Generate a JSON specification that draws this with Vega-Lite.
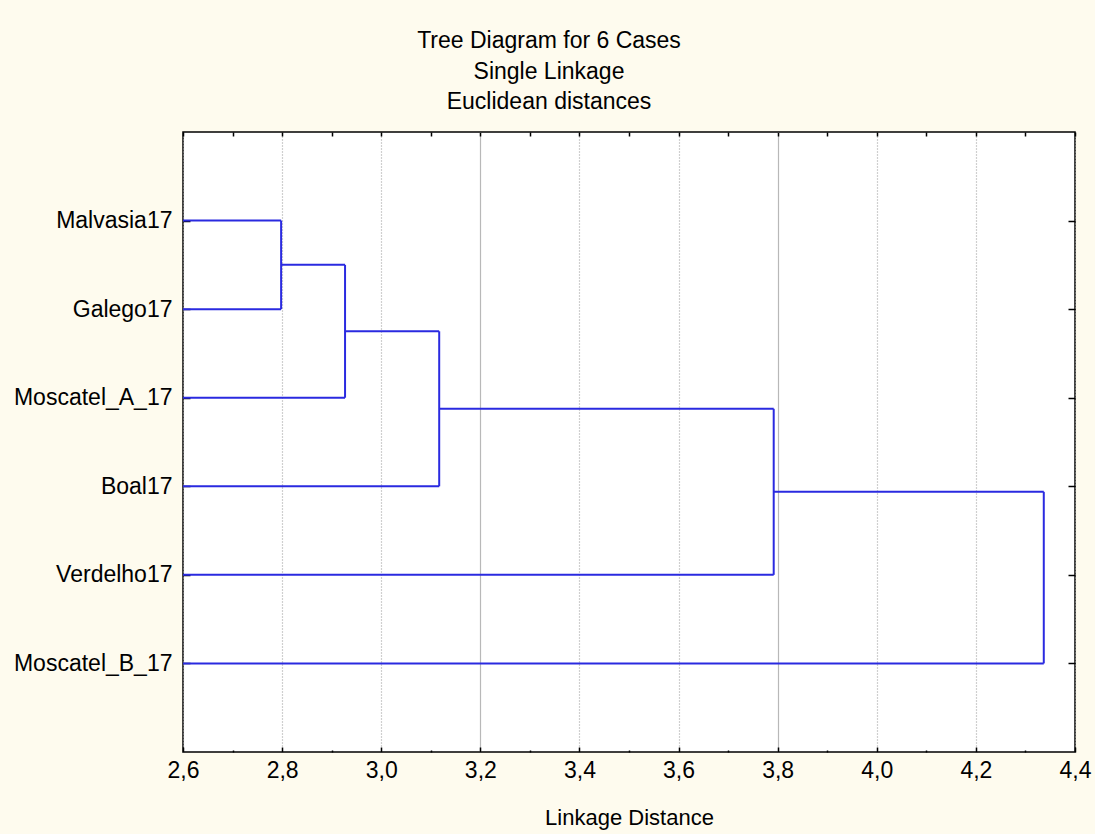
{
  "$schema": "https://vega.github.io/schema/vega-lite/v6.json",
  "autosize": {"type": "none"},
  "width": 892,
  "height": 620,
  "padding": {"left": 183, "top": 132, "right": 20, "bottom": 82},
  "background": "#fefbee",
  "config": {
    "font": "Liberation Sans",
    "view": {"stroke": "#000000", "strokeWidth": 1.5, "fill": "#ffffff"},
    "axis": {"labelFont": "Liberation Sans", "titleFont": "Liberation Sans", "labelColor": "#000000", "titleColor": "#000000", "tickColor": "#000000", "domain": false}
  },
  "title": {
    "text": ["Tree Diagram for 6 Cases", "Single Linkage", "Euclidean distances"],
    "anchor": "middle",
    "frame": "group",
    "dx": -80,
    "offset": 17,
    "fontSize": 23,
    "fontWeight": "normal",
    "lineHeight": 30.5,
    "font": "Liberation Sans",
    "color": "#000000"
  },
  "data": {
    "values": [
      {"x1": 2.6, "x2": 2.798, "y1": 1, "y2": 1},
      {"x1": 2.6, "x2": 2.798, "y1": 2, "y2": 2},
      {"x1": 2.798, "x2": 2.798, "y1": 1, "y2": 2},
      {"x1": 2.798, "x2": 2.927, "y1": 1.5, "y2": 1.5},
      {"x1": 2.6, "x2": 2.927, "y1": 3, "y2": 3},
      {"x1": 2.927, "x2": 2.927, "y1": 1.5, "y2": 3},
      {"x1": 2.927, "x2": 3.117, "y1": 2.25, "y2": 2.25},
      {"x1": 2.6, "x2": 3.117, "y1": 4, "y2": 4},
      {"x1": 3.117, "x2": 3.117, "y1": 2.25, "y2": 4},
      {"x1": 3.117, "x2": 3.792, "y1": 3.125, "y2": 3.125},
      {"x1": 2.6, "x2": 3.792, "y1": 5, "y2": 5},
      {"x1": 3.792, "x2": 3.792, "y1": 3.125, "y2": 5},
      {"x1": 3.792, "x2": 4.337, "y1": 4.0625, "y2": 4.0625},
      {"x1": 2.6, "x2": 4.337, "y1": 6, "y2": 6},
      {"x1": 4.337, "x2": 4.337, "y1": 4.0625, "y2": 6}
    ]
  },
  "resolve": {"axis": {"x": "independent", "y": "independent"}},
  "layer": [
    {
      "mark": {"type": "rule", "color": "#2a2ae0", "strokeWidth": 2},
      "encoding": {
        "x": {
          "field": "x1", "type": "quantitative",
          "scale": {"domain": [2.6, 4.4], "nice": false, "zero": false},
          "axis": {
            "orient": "bottom",
            "values": [2.6, 2.8, 3.0, 3.2, 3.4, 3.6, 3.8, 4.0, 4.2, 4.4],
            "labelExpr": "replace(format(datum.value, '.1f'), '.', ',')",
            "labelFontSize": 23,
            "labelPadding": 12,
            "labelFlush": false,
            "labelOverlap": false,
            "tickSize": -5,
            "tickWidth": 1.5,
            "grid": true,
            "gridColor": {"condition": {"test": "abs(datum.value - 3.2) < 0.01 || abs(datum.value - 3.8) < 0.01", "value": "#b8b8b8"}, "value": "#a0a0a0"},
            "gridDash": {"condition": {"test": "abs(datum.value - 3.2) < 0.01 || abs(datum.value - 3.8) < 0.01", "value": []}, "value": [1, 2]},
            "gridWidth": 1.2,
            "title": "Linkage Distance",
            "titleFontSize": 22,
            "titleFontWeight": "normal",
            "titlePadding": 25
          }
        },
        "x2": {"field": "x2"},
        "y": {
          "field": "y1", "type": "quantitative",
          "scale": {"domain": [0, 7], "nice": false, "zero": false, "reverse": true},
          "axis": {
            "orient": "left",
            "values": [1, 2, 3, 4, 5, 6],
            "labelExpr": "['', 'Malvasia17', 'Galego17', 'Moscatel_A_17', 'Boal17', 'Verdelho17', 'Moscatel_B_17'][datum.value]",
            "labelFontSize": 23,
            "labelPadding": 18,
            "labelFlush": false,
            "tickSize": -7,
            "tickWidth": 1.5,
            "grid": false,
            "title": null
          }
        },
        "y2": {"field": "y2"}
      }
    },
    {
      "mark": {"type": "rule", "strokeOpacity": 0},
      "encoding": {
        "x": {
          "field": "x1", "type": "quantitative",
          "axis": {
            "orient": "top",
            "values": [2.6, 2.7, 2.8, 2.9, 3.0, 3.1, 3.2, 3.3, 3.4, 3.5, 3.6, 3.7, 3.8, 3.9, 4.0, 4.1, 4.2, 4.3, 4.4],
            "labels": false,
            "tickSize": -4,
            "tickWidth": 1.5,
            "grid": false,
            "title": null
          }
        },
        "y": {
          "field": "y1", "type": "quantitative",
          "axis": {
            "orient": "right",
            "values": [1, 2, 3, 4, 5, 6],
            "labels": false,
            "tickSize": -7,
            "tickWidth": 1.5,
            "grid": false,
            "title": null
          }
        }
      }
    },
    {
      "mark": {"type": "rule", "strokeOpacity": 0},
      "encoding": {
        "x": {
          "field": "x1", "type": "quantitative",
          "axis": {
            "orient": "bottom",
            "values": [2.7, 2.9, 3.1, 3.3, 3.5, 3.7, 3.9, 4.1, 4.3],
            "labels": false,
            "tickSize": -2,
            "tickWidth": 1.5,
            "grid": false,
            "title": null
          }
        },
        "y": {"field": "y1", "type": "quantitative", "axis": null}
      }
    }
  ]
}
